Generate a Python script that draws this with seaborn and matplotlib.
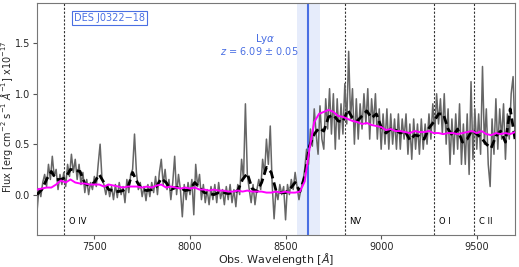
import numpy as np
import pandas as pd
import matplotlib
matplotlib.use("Agg")
import matplotlib.pyplot as plt
import seaborn as sns

# ---------------- data ----------------
# observed spectrum (10 A sampling, 7200..9700)
wave_raw = list(range(7200, 9701, 10))
flux_raw = [
    -0.17, 0.06, -0.02, 0.12, 0.20, 0.08, 0.30, 0.15, 0.38, 0.18,
    0.25, 0.05, 0.20, 0.10, 0.22, 0.08, 0.30, 0.18, 0.40, 0.22,
    0.35, 0.15, 0.30, 0.10, 0.22, 0.02, 0.15, 0.00, 0.12, 0.05,
    0.18, 0.08, 0.30, 0.50, 0.15, 0.10, 0.00, 0.10, -0.02, 0.08,
    -0.05, 0.10, -0.03, 0.12, 0.00, 0.08, -0.08, 0.15, 0.02, 0.20,
    0.25, 0.60, 0.22, 0.05, 0.12, -0.02, 0.08, -0.06, 0.10, -0.02,
    0.12, 0.02, 0.18, 0.00, 0.22, 0.35, 0.10, 0.25, 0.05, 0.15,
    -0.05, 0.12, 0.38, 0.00, 0.20, 0.05, -0.22, 0.10, -0.05, 0.12,
    0.00, 0.15, -0.20, 0.30, 0.08, 0.20, -0.05, 0.10, -0.08, 0.05,
    -0.10, 0.08, -0.05, 0.10, -0.08, 0.12, -0.04, 0.05, -0.10, 0.08,
    -0.05, 0.10, -0.08, 0.05, -0.12, 0.10, 0.00, 0.35, 0.15, 0.90,
    0.20, 0.05, -0.08, 0.10, -0.10, 0.05, 0.15, 0.05, 0.35, 0.20,
    0.55, 0.30, 0.68, 0.10, -0.24, 0.05, -0.05, 0.10, 0.00, 0.08,
    -0.25, 0.10, 0.00, 0.15, 0.05, 0.22, 0.08, -0.05, 0.05, 0.12,
    0.25, 0.45, 0.30, 0.65, 0.48, 0.85, 0.60, 0.40, 0.88, 0.55,
    0.45, 0.95, 0.65, 1.05, 0.60, 1.00, 0.45, 0.95, 0.55, 0.90,
    0.60, 1.10, 0.70, 1.42, 0.75, 1.05, 0.50, 0.95, 0.55, 0.90,
    0.65, 1.00, 0.70, 1.05, 0.55, 0.95, 0.70, 1.00, 0.55, 0.85,
    0.45, 0.80, 0.50, 0.85, 0.45, 0.80, 0.50, 0.75, 0.45, 0.80,
    0.45, 0.75, 0.55, 0.80, 0.40, 0.70, 0.35, 0.75, 0.45, 0.70,
    0.40, 0.75, 0.45, 0.70, 0.50, 0.80, 0.55, 0.90, 0.60, 1.00,
    0.70, 0.95, 0.60, 1.00, 0.50, 0.85, 0.30, 0.75, 0.40, 0.80,
    0.45, 0.90, 0.30, 0.70, 0.30, 0.80, 0.20, 1.12, 0.35, 0.85,
    0.45, 0.80, 0.40, 1.27, 0.50, 0.85, 0.30, 0.08, 0.75, 0.40,
    0.95, 0.45, 0.85, 0.55, 0.90, 0.35, 0.80, 0.55, 1.00, 1.17,
    0.60,
]

# smoothed spectrum and model (25 A sampling)
wave_s = list(range(7200, 9701, 25))
flux_smooth = [
    0.00, 0.05, 0.15, 0.23, 0.15, 0.15, 0.17, 0.25, 0.24, 0.23,
    0.11, 0.09, 0.12, 0.20, 0.12, 0.05, 0.04, 0.03, 0.04, 0.07,
    0.22, 0.12, 0.05, 0.04, 0.05, 0.08, 0.16, 0.12, 0.05, 0.07,
    0.07, 0.04, 0.05, 0.12, 0.07, 0.02, 0.01, 0.00, 0.02, 0.02,
    0.01, 0.02, 0.04, 0.15, 0.21, 0.06, 0.03, 0.12, 0.27, 0.22,
    0.04, 0.02, 0.02, 0.06, 0.12, 0.03, 0.18, 0.48, 0.60, 0.66,
    0.63, 0.77, 0.79, 0.73, 0.72, 0.84, 0.76, 0.73, 0.78, 0.83,
    0.76, 0.80, 0.67, 0.61, 0.65, 0.64, 0.61, 0.63, 0.54, 0.59,
    0.58, 0.55, 0.66, 0.72, 0.80, 0.80, 0.65, 0.58, 0.65, 0.52,
    0.55, 0.64, 0.60, 0.56, 0.50, 0.46, 0.58, 0.63, 0.52, 0.85,
    0.55,
]
flux_model = [
    0.05, 0.06, 0.07, 0.07, 0.10, 0.14, 0.12, 0.15, 0.12, 0.11,
    0.11, 0.10, 0.10, 0.10, 0.08, 0.10, 0.09, 0.08, 0.07, 0.08,
    0.08, 0.08, 0.07, 0.08, 0.07, 0.09, 0.10, 0.07, 0.08, 0.07,
    0.06, 0.07, 0.06, 0.07, 0.05, 0.05, 0.04, 0.05, 0.04, 0.04,
    0.03, 0.03, 0.04, 0.03, 0.04, 0.03, 0.03, 0.03, 0.02, 0.02,
    0.03, 0.02, 0.03, 0.02, 0.02, 0.03, 0.13, 0.45, 0.72, 0.80,
    0.82, 0.84, 0.82, 0.78, 0.77, 0.75, 0.73, 0.72, 0.70, 0.71,
    0.69, 0.68, 0.67, 0.64, 0.65, 0.63, 0.63, 0.62, 0.61, 0.63,
    0.62, 0.62, 0.63, 0.61, 0.61, 0.60, 0.61, 0.61, 0.60, 0.61,
    0.62, 0.63, 0.61, 0.63, 0.60, 0.59, 0.61, 0.60, 0.61, 0.60,
    0.62,
]

line_names = ["O IV", "NV", "O I", "C II"]
line_waves = [7340, 8810, 9275, 9488]
lya_wave = 8617
lya_lo, lya_hi = 8558, 8680
x_ticks = [7500, 8000, 8500, 9000, 9500]
y_ticks = [0.0, 0.5, 1.0, 1.5]

# ---------------- plot ----------------
sns.set_style("ticks")
plt.rcParams["font.family"] = ["DejaVu Sans"]
plt.rcParams["mathtext.fontset"] = "dejavusans"

fig = plt.figure(figsize=(5.19, 2.67), dpi=100)
ax = fig.add_axes([0.0713, 0.120, 0.921, 0.869])

blue = "#4a6fe3"
ax.axvspan(lya_lo, lya_hi, color="#e6ecfb", zorder=0, lw=0)
ax.axvline(lya_wave, color=blue, lw=1.5, zorder=1)
for w in line_waves:
    ax.axvline(w, color="#333333", lw=0.8, ls=(0, (2, 1.5)), zorder=1)

df_raw = pd.DataFrame({"wave": wave_raw, "flux": flux_raw})
df_s = pd.DataFrame({"wave": wave_s, "smooth": flux_smooth, "model": flux_model})

sns.lineplot(data=df_raw, x="wave", y="flux", ax=ax, color="#666666", lw=1.1, zorder=2)
sns.lineplot(data=df_s, x="wave", y="smooth", ax=ax, color="black", lw=2.0,
             linestyle=(0, (3, 1.5)), zorder=3)
sns.lineplot(data=df_s, x="wave", y="model", ax=ax, color="#ff00ff", lw=1.4, zorder=4)

for name, w in zip(line_names, line_waves):
    ax.text(w + 25, -0.27, name, fontsize=6, color="black", va="center", ha="left")

ax.text(0.077, 0.935, "DES J0322\u221218", transform=ax.transAxes, fontsize=7,
        color=blue, va="center", ha="left",
        bbox=dict(boxstyle="square,pad=0.2", fc="white", ec=blue, lw=0.8))
ax.text(8395, 1.545, "Ly$\\alpha$", fontsize=7.5, color=blue, ha="center", va="center")
ax.text(8365, 1.42, "$z$ = 6.09 \u00b1 0.05", fontsize=7, color=blue, ha="center", va="center")

ax.set_xlim(7200, 9700)
ax.set_ylim(-0.4, 1.9)
ax.set_xticks(x_ticks)
ax.set_yticks(y_ticks)
ax.tick_params(labelsize=7, length=3, width=0.8, color="#555555", pad=2)
for sp in ax.spines.values():
    sp.set_color("#777777")
    sp.set_linewidth(0.8)
ax.set_xlabel("Obs. Wavelength [$\\AA$]", fontsize=8, va="top")
ax.xaxis.set_label_coords(0.5, -0.068)
ax.set_ylabel("Flux [erg cm$^{-2}$ s$^{-1}$ $\\AA^{-1}$] x10$^{-17}$", fontsize=7)
ax.yaxis.set_label_coords(-0.047, 0.51)

fig.savefig("out.png", dpi=100)
